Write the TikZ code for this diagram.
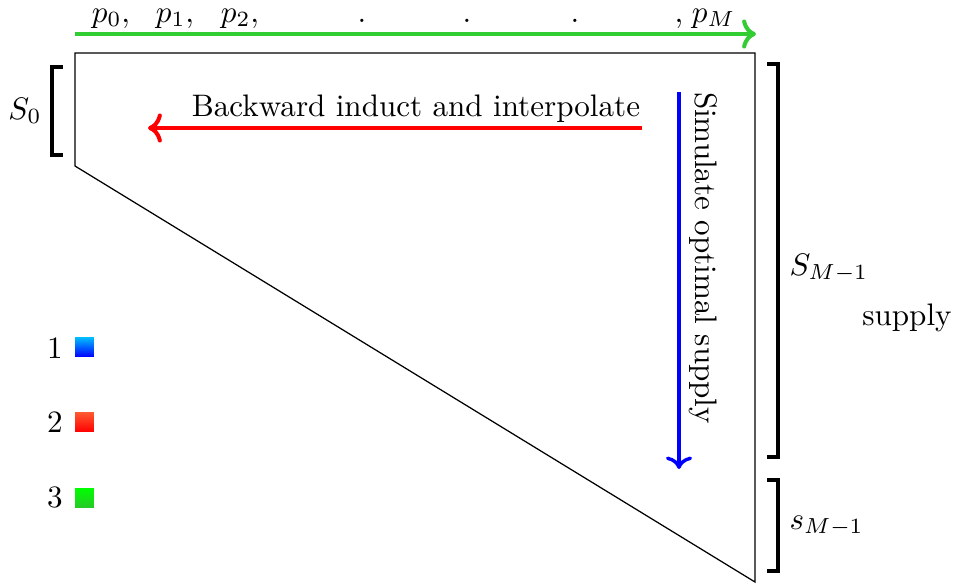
\documentclass[tikz,border=0pt]{standalone}
\usetikzlibrary{arrows.meta}
\definecolor{arrgreen}{RGB}{50,205,50}
\begin{document}
\begin{tikzpicture}[x=0.3215pt,y=-0.3215pt,
  brk/.style={line width=1.4pt},
  bigarrow/.style={line width=1.3pt,->},
  lbl/.style={inner sep=0pt},
  legbox/.style={minimum width=6pt,minimum height=6.3pt,inner sep=0pt}]
\useasboundingbox (0,0) rectangle (956,587);
% trapezoid
\coordinate (tl) at (75,53);
\coordinate (tr) at (755,53);
\coordinate (br) at (755,582);
\coordinate (bl) at (75,166);
\draw[line width=0.4pt] (tl) -- (tr) -- (br) -- (bl) -- cycle;
% green arrow
\coordinate (gs) at (75,34);
\coordinate (ge) at (756,34);
\draw[bigarrow,arrgreen] (gs) -- (ge);
\node[lbl,anchor=base] (p0) at (111,22) {$p_0,$};
\node[lbl,anchor=base] (p1) at (175,22) {$p_1,$};
\node[lbl,anchor=base] (p2) at (240,22) {$p_2,$};
\node[lbl,anchor=base] (d1) at (362,22) {$.$};
\node[lbl,anchor=base] (d2) at (467,22) {$.$};
\node[lbl,anchor=base] (d3) at (575,22) {$.$};
\node[lbl,anchor=base] (pM) at (705,22) {${,}\;p_M$};
% S0 bracket
\coordinate (s0a) at (63,67);
\coordinate (s0b) at (52,67);
\coordinate (s0c) at (52,155);
\coordinate (s0d) at (63,155);
\draw[brk] (s0a) -- (s0b) -- (s0c) -- (s0d);
\node[lbl] (S0) at (25,111) {$S_0$};
% red arrow
\coordinate (rs) at (642,128);
\coordinate (re) at (148,128);
\draw[bigarrow,red] (rs) -- (re);
\node[lbl,anchor=base] (bw) at (416,116) {Backward induct and interpolate};
% blue arrow
\coordinate (bs) at (679,92);
\coordinate (be) at (679,469);
\draw[bigarrow,blue,line width=1.1pt] (bs) -- (be);
\node[lbl,rotate=-90] (sim) at (703,258) {Simulate optimal supply};
% right big bracket
\coordinate (ba) at (767,64);
\coordinate (bb) at (778,64);
\coordinate (bc) at (778,457);
\coordinate (bd) at (767,457);
\draw[brk] (ba) -- (bb) -- (bc) -- (bd);
\node[lbl,anchor=west] (SM) at (789,268) {$S_{M-1}$};
\node[lbl] (sup) at (907,318) {supply};
% small bracket
\coordinate (ca) at (767,480);
\coordinate (cb) at (778,480);
\coordinate (cc) at (778,571);
\coordinate (cd) at (767,571);
\draw[brk] (ca) -- (cb) -- (cc) -- (cd);
\node[lbl,anchor=west] (sM) at (789,526) {$s_{M-1}$};
% legend
\node[lbl] (n1) at (55,348) {1};
\node[legbox,top color={rgb,255:red,0;green,190;blue,255},bottom color={rgb,255:red,0;green,0;blue,255}] (b1) at (84.5,347) {};
\node[lbl] (n2) at (55,422) {2};
\node[legbox,top color={rgb,255:red,255;green,90;blue,50},bottom color={rgb,255:red,255;green,0;blue,0}] (b2) at (84.5,422) {};
\node[lbl] (n3) at (55,497) {3};
\node[legbox,top color={rgb,255:red,0;green,255;blue,0},bottom color={rgb,255:red,40;green,200;blue,40}] (b3) at (84.5,498) {};
\end{tikzpicture}
\end{document}
